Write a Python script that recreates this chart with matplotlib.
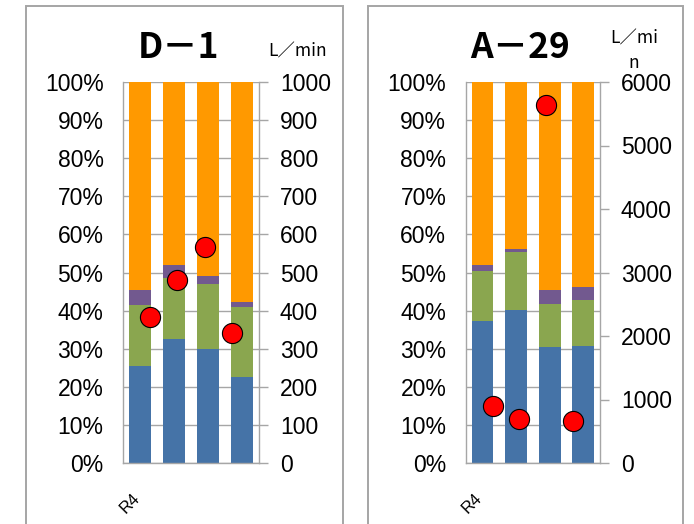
import matplotlib
matplotlib.use("Agg")
import matplotlib.pyplot as plt
from matplotlib.patches import Rectangle
from matplotlib.ticker import FixedLocator, PercentFormatter

# Composicion por muestra (%) y caudal (L/min)
categories = ["R4", "", "", ""]

d1_blue = [25.5, 32.6, 29.8, 22.6]
d1_green = [15.9, 16.0, 17.1, 18.3]
d1_purple = [3.9, 3.3, 2.1, 1.3]
d1_orange = [54.7, 48.1, 51.0, 57.8]
d1_flow = [382, 480, 568, 341]

a29_blue = [37.2, 40.1, 30.5, 30.7]
a29_green = [13.1, 15.2, 11.2, 12.0]
a29_purple = [1.6, 0.9, 3.6, 3.5]
a29_orange = [48.1, 43.8, 54.7, 53.8]
a29_flow = [891, 692, 5644, 655]

COLORS = ["#4573a7", "#8aa64f", "#72598f", "#ff9900"]
GRID = "#a6a6a6"
TICK_FONT = ["Liberation Sans Narrow", "Liberation Sans", "DejaVu Sans"]
JP_FONT = ["Noto Sans CJK JP", "DejaVu Sans"]

W, H = 694, 524
fig = plt.figure(figsize=(W / 100, H / 100), dpi=100, facecolor="white")


def px(x0, y0, x1, y1):
    """pixel box (top-left origin) -> figure fraction rect"""
    return [x0 / W, 1 - y1 / H, (x1 - x0) / W, (y1 - y0) / H]


def panel(rect, frame, segs, flow, ymax2, ystep2, title, unit, unit_xy,
          bar_w):
    # marco gris del grafico (se sale por abajo)
    fx0, fx1 = frame
    fig.add_artist(Rectangle((fx0 / W, -0.05), (fx1 - fx0) / W,
                             1.05 - 5.5 / H, transform=fig.transFigure,
                             fill=False, ec="#a5a5a5", lw=1.4))

    ax = fig.add_axes(rect)
    n = len(categories)
    xs = list(range(n))
    bottom = [0.0] * n
    for vals, c in zip(segs, COLORS):
        ax.bar(xs, vals, bar_w, bottom=bottom, color=c, zorder=2)
        bottom = [b + v for b, v in zip(bottom, vals)]

    ax.set_xlim(-0.5, n - 0.5)
    ax.set_ylim(0, 100)
    ax.yaxis.set_major_locator(FixedLocator(range(0, 101, 10)))
    ax.yaxis.set_major_formatter(PercentFormatter(decimals=0))
    ax.grid(axis="y", color=GRID, lw=1.0, zorder=0)
    ax.set_axisbelow(True)
    ax.tick_params(axis="y", length=0, pad=14)
    for lbl in ax.get_yticklabels():
        lbl.set(fontfamily=TICK_FONT, fontsize=16.5)

    # etiquetas de categoria inclinadas bajo cada barra
    ax.set_xticks([])
    for x, name in zip(xs, categories):
        ax.annotate(name, xy=(x, 0), xycoords=("data", "axes fraction"),
                    xytext=(-6, -20), textcoords="offset points",
                    rotation=45, ha="right", va="top",
                    rotation_mode="anchor", fontfamily=TICK_FONT[1:],
                    fontsize=12)

    for s in ("top", "right"):
        ax.spines[s].set_visible(False)
    for s in ("left", "bottom"):
        ax.spines[s].set_color(GRID)
        ax.spines[s].set_linewidth(1.0)

    # caudal en eje secundario, puntos repartidos en quintos del ancho
    ax2 = ax.twinx()
    dot_x = [-0.5 + (i + 1) * n / (n + 1) for i in range(n)]
    ax2.plot(dot_x, flow, ls="none", marker="o", ms=14.5, mfc="#ff0000",
             mec="black", mew=0.8, zorder=5, clip_on=False)
    ax2.set_ylim(0, ymax2)
    ax2.yaxis.set_major_locator(FixedLocator(range(0, ymax2 + 1, ystep2)))
    ax2.tick_params(axis="y", length=6.5, width=1.0, color=GRID, pad=8.5)
    for lbl in ax2.get_yticklabels():
        lbl.set(fontfamily=TICK_FONT, fontsize=16.5)
    for s in ("top", "left", "bottom"):
        ax2.spines[s].set_visible(False)
    ax2.spines["right"].set_color(GRID)
    ax2.spines["right"].set_linewidth(1.0)

    cx = (fx0 + fx1) / 2 - 5
    fig.text(cx / W, 1 - 47 / H, title, ha="center", va="center",
             fontfamily=JP_FONT, fontsize=25.5, fontweight="bold")
    fig.text(unit_xy[0] / W, 1 - unit_xy[1] / H, unit, ha="center",
             va="center", fontfamily=JP_FONT, fontsize=12.5,
             linespacing=1.5)
    return ax, ax2


panel(px(123, 82, 259, 463), (25.5, 342.5),
      [d1_blue, d1_green, d1_purple, d1_orange], d1_flow, 1000, 100,
      "D－1", "L／min", (298, 52), 0.67)

panel(px(465.7, 82, 600, 463), (367.5, 682.5),
      [a29_blue, a29_green, a29_purple, a29_orange], a29_flow, 6000, 1000,
      "A－29", "L／mi\nn", (634, 51), 0.65)

fig.savefig("out.png", dpi=100, facecolor="white")
